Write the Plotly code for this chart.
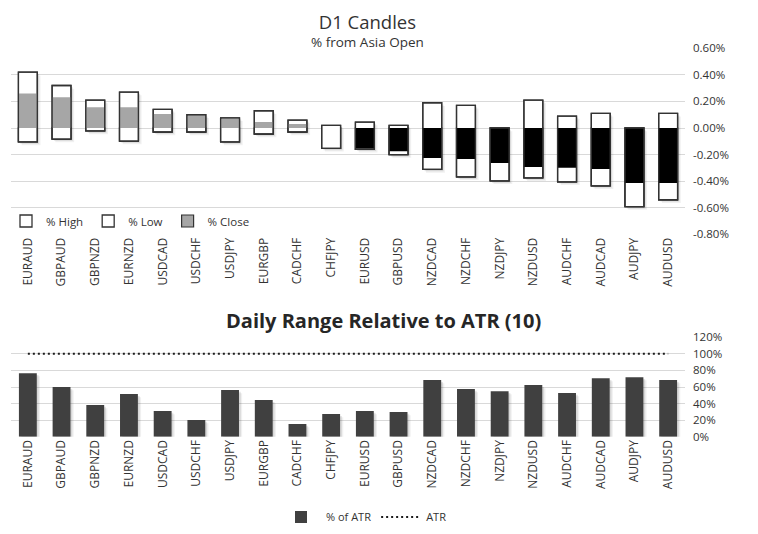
import plotly.graph_objects as go

pairs = ["EURAUD", "GBPAUD", "GBPNZD", "EURNZD", "USDCAD", "USDCHF", "USDJPY",
         "EURGBP", "CADCHF", "CHFJPY", "EURUSD", "GBPUSD", "NZDCAD", "NZDCHF",
         "NZDJPY", "NZDUSD", "AUDCHF", "AUDCAD", "AUDJPY", "AUDUSD"]
pct_high = [0.42, 0.32, 0.21, 0.27, 0.14, 0.10, 0.077, 0.13, 0.06, 0.02,
            0.045, 0.02, 0.19, 0.17, 0.0, 0.21, 0.09, 0.11, 0.0, 0.11]
pct_low = [-0.105, -0.083, -0.022, -0.098, -0.03, -0.03, -0.105, -0.045, -0.03, -0.153,
           -0.16, -0.20, -0.312, -0.368, -0.398, -0.375, -0.405, -0.435, -0.592, -0.54]
pct_close = [0.26, 0.232, 0.157, 0.157, 0.105, 0.092, 0.068, 0.045, 0.03, 0.0,
             -0.155, -0.175, -0.225, -0.233, -0.263, -0.293, -0.30, -0.308, -0.413, -0.413]
pct_of_atr = [76.7, 59.9, 38.2, 51.4, 31.0, 20.1, 56.3, 44.2, 15.3, 27.3,
              31.0, 29.8, 68.3, 57.5, 55.0, 62.3, 52.7, 70.7, 71.9, 68.3]
atr_level = [100] * len(pairs)

top_ticks = [-0.8, -0.6, -0.4, -0.2, 0.0, 0.2, 0.4, 0.6]
bot_ticks = [0, 20, 40, 60, 80, 100, 120]

# page body adds an 8px offset; the figure is sized to fit the window
OFF = 8
W, H = 758 - OFF, 534 - OFF
FONT = "Open Sans"
TXT = "#333333"
GRID = "#d9d9d9"
EDGE = "#333333"
BW = 0.56
ABW = 0.53


def px_x(px):
    return (px - OFF) / W


def px_y(px):
    return 1 - (px - OFF) / H


rng = [h - l for h, l in zip(pct_high, pct_low)]
TOP_PX = 133.3   # px per 1% (top chart)
BOT_PX = 0.83    # px per 1 unit (bottom chart)
CAT_PX = 33.7    # px per category

fig = go.Figure()

# soft drop shadows (two layers)
for shift, alpha in [(3.2, 0.06), (1.8, 0.10)]:
    fig.add_trace(go.Bar(x=pairs, y=rng, base=[l - shift / TOP_PX for l in pct_low],
                         width=BW, offset=-BW / 2 + shift / CAT_PX,
                         marker=dict(color=f"rgba(0,0,0,{alpha})", line=dict(width=0)),
                         showlegend=False, hoverinfo="skip", xaxis="x", yaxis="y"))
# Low bars (under the candle box; give the legend entry)
fig.add_trace(go.Bar(x=pairs, y=pct_low, base=0, name="% Low", width=BW,
                     marker=dict(color="white", line=dict(color=EDGE, width=1.3)),
                     xaxis="x", yaxis="y", legend="legend", legendrank=2))
# candle body from low to high
fig.add_trace(go.Bar(x=pairs, y=rng, base=pct_low, name="% High", width=BW,
                     marker=dict(color="white", line=dict(color=EDGE, width=1.3)),
                     xaxis="x", yaxis="y", legend="legend", legendrank=1))
# close bars
close_cols = ["#a6a6a6" if c >= 0 else "#000000" for c in pct_close]
fig.add_trace(go.Bar(x=pairs, y=pct_close, base=0, name="% Close", width=BW,
                     marker=dict(color=close_cols, line=dict(width=0)),
                     showlegend=False, xaxis="x", yaxis="y"))
# outline over the candle
fig.add_trace(go.Bar(x=pairs, y=rng, base=pct_low, width=BW, showlegend=False,
                     hoverinfo="skip",
                     marker=dict(color="rgba(0,0,0,0)", line=dict(color=EDGE, width=1.3)),
                     xaxis="x", yaxis="y"))
# legend entry for close
fig.add_trace(go.Bar(x=[None], y=[None], name="% Close",
                     marker=dict(color="#a6a6a6", line=dict(color=EDGE, width=1.2)),
                     xaxis="x", yaxis="y", legend="legend", legendrank=3))

# bottom chart
for shift, alpha in [(3.2, 0.06), (1.8, 0.10)]:
    fig.add_trace(go.Bar(x=pairs, y=pct_of_atr, base=[-shift / BOT_PX] * len(pairs),
                         width=ABW, offset=-ABW / 2 + shift / CAT_PX,
                         marker=dict(color=f"rgba(0,0,0,{alpha})", line=dict(width=0)),
                         showlegend=False, hoverinfo="skip", xaxis="x2", yaxis="y2"))
fig.add_trace(go.Bar(x=pairs, y=pct_of_atr, name="% of ATR", width=ABW,
                     marker=dict(color="#404040", line=dict(width=0)),
                     xaxis="x2", yaxis="y2", legend="legend2"))
fig.add_trace(go.Scatter(x=pairs, y=atr_level, name="ATR", mode="lines",
                         line=dict(color="#1a1a1a", width=2, dash="2px,3px"),
                         xaxis="x2", yaxis="y2", legend="legend2"))

xdom = [px_x(11), px_x(685)]
axis_common = dict(showgrid=False, zeroline=False, showline=False, ticks="",
                   tickangle=-90, tickfont=dict(family=FONT, size=12, color=TXT),
                   range=[-0.5, len(pairs) - 0.5], fixedrange=True, automargin=False)

title_text = ("<span style='font-size:18.5px'>D1 Candles</span><br>"
              "<span style='font-size:13.5px'>% from Asia Open</span>")

fig.update_layout(
    width=W, height=H, autosize=False,
    margin=dict(l=0, r=0, t=0, b=0, pad=0, autoexpand=False),
    paper_bgcolor="white", plot_bgcolor="rgba(0,0,0,0)",
    barmode="overlay",
    font=dict(family=FONT, color=TXT),
    xaxis=dict(domain=xdom, anchor="y", **axis_common),
    yaxis=dict(domain=[px_y(234.3), px_y(48.3)], side="right", anchor="x",
               range=[-0.8, 0.6], tickvals=top_ticks,
               ticktext=[f"{v:.2f}%" for v in top_ticks],
               showgrid=True, gridcolor=GRID, gridwidth=1, zeroline=False,
               tickfont=dict(family=FONT, size=11.5, color=TXT), ticklabelstandoff=7,
               fixedrange=True, automargin=False),
    xaxis2=dict(domain=xdom, anchor="y2", **axis_common),
    yaxis2=dict(domain=[px_y(436.7), px_y(337.3)], side="right", anchor="x2",
                range=[0, 120], tickvals=bot_ticks,
                ticktext=[f"{v}%" for v in bot_ticks],
                showgrid=True, gridcolor=GRID, gridwidth=1, zeroline=False,
                tickfont=dict(family=FONT, size=11.5, color=TXT), ticklabelstandoff=7,
                fixedrange=True, automargin=False),
    legend=dict(orientation="h", x=px_x(6), xanchor="left", y=px_y(221), yanchor="middle",
                font=dict(family=FONT, size=11.5, color=TXT), itemwidth=30,
                bgcolor="rgba(0,0,0,0)", traceorder="normal"),
    legend2=dict(orientation="h", x=px_x(364), xanchor="center", y=px_y(517),
                 yanchor="middle", font=dict(family=FONT, size=11, color=TXT),
                 itemwidth=40, bgcolor="rgba(0,0,0,0)"),
    annotations=[
        dict(text=title_text, x=px_x(367), y=1.0, xref="paper", yref="paper",
             xanchor="center", yanchor="top", showarrow=False, borderpad=0,
             font=dict(family=FONT, size=14, color="#333333")),
        dict(text="<b>Daily Range Relative to ATR (10)</b>", x=px_x(383), y=px_y(320),
             xref="paper", yref="paper", xanchor="center", yanchor="middle",
             showarrow=False, font=dict(family=FONT, size=20, color="#262626")),
    ],
)

fig.write_html("out.html")
